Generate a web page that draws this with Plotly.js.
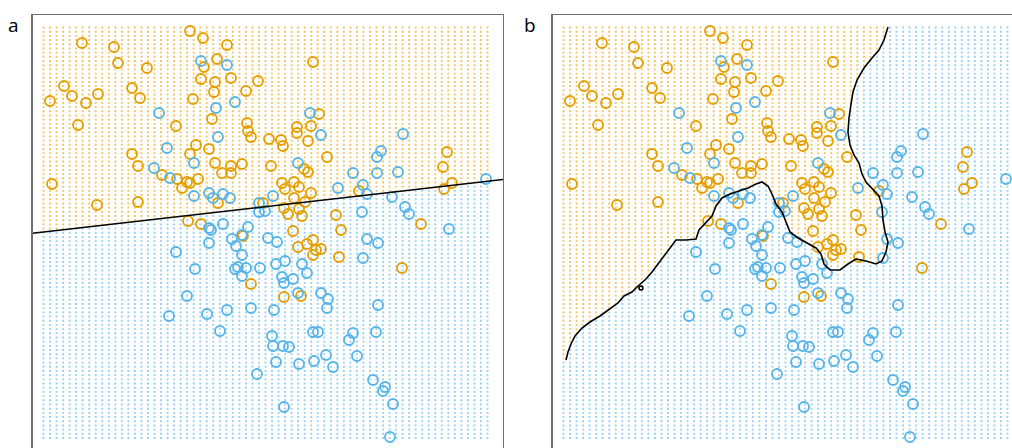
<!DOCTYPE html>
<html>
<head>
<meta charset="utf-8">
<script src="https://cdn.plot.ly/plotly-3.0.1.min.js"></script>
<style>
  html, body { margin: 0; padding: 0; overflow: hidden; background: #ffffff; }
</style>
</head>
<body>
<div id="chart"></div>
<script>
// Training sample: two features per point, two classes.
const orangeX = [-0.73,-0.60,-1.81,-1.49,-0.36,-0.46,-0.59,-1.45,-1.16,-0.62,
  -0.48,-0.32,-0.05,-0.49,-0.17,-1.99,-1.91,-1.77,-1.65,-2.13,
  -1.31,-1.23,-0.70,-0.51,-0.16,-0.15,-0.12,-1.85,-0.87,-0.67,
  -0.54,0.50,0.56,0.34,0.34,0.48,0.06,0.18,0.20,0.45,
  1.84,-1.31,-0.73,-1.25,-0.48,-0.32,-0.21,-0.41,-0.32,-1.01,
  -0.86,-0.76,-0.73,-0.65,-0.81,-2.11,-1.66,-1.25,-0.45,-0.75,
  -0.62,-0.20,-0.12,0.64,0.08,0.41,0.45,1.80,0.19,0.22,
  0.31,0.36,0.48,0.31,0.42,0.96,1.89,1.81,0.00,0.21,
  0.36,0.25,0.39,0.73,1.58,0.30,0.78,0.50,0.44,0.35,
  0.53,0.58,0.50,0.76,1.39,0.21,0.38];
const orangeY = [1.95,1.88,1.83,1.79,1.81,1.67,1.59,1.63,1.58,1.47,
  1.44,1.48,1.45,1.34,1.35,1.40,1.30,1.23,1.32,1.25,
  1.38,1.28,1.27,1.07,1.03,0.95,0.89,1.01,1.00,0.81,
  0.77,1.64,1.12,0.99,0.93,1.00,0.87,0.86,0.80,0.85,
  0.74,0.72,0.72,0.60,0.63,0.60,0.62,0.53,0.53,0.51,
  0.47,0.44,0.43,0.47,0.38,0.42,0.21,0.24,0.23,0.05,
  0.02,-0.10,-0.58,0.69,0.60,0.57,0.54,0.59,0.43,0.37,
  0.44,0.39,0.33,0.28,0.24,0.35,0.43,0.37,0.23,0.18,
  0.17,0.12,0.10,0.11,0.02,-0.05,-0.04,-0.14,-0.18,-0.21,
  -0.24,-0.23,-0.29,-0.31,-0.42,-0.71,-0.70];

const blueX = [-0.62,-0.36,-0.28,-0.47,-1.04,-0.45,-0.96,0.47,0.58,1.40,
  1.18,-0.69,-1.09,-0.93,-0.69,-0.54,-0.50,-0.40,-0.33,-0.54,
  -0.52,-0.40,-0.15,-0.31,-0.27,-0.21,-0.21,-0.54,-0.87,-0.68,
  -0.28,-0.25,-0.17,-0.21,-0.76,-0.03,0.35,1.14,0.90,1.14,
  1.35,0.75,1.00,1.04,1.29,0.10,-0.04,-0.04,0.02,2.23,
  1.42,1.46,0.99,1.86,0.05,0.14,1.04,1.15,1.00,0.13,
  0.22,0.39,0.44,0.19,0.30,0.21,0.35,0.58,0.65,-0.94,
  -0.56,-0.36,-0.12,-0.43,-0.06,0.64,1.15,0.11,0.50,0.55,
  0.90,0.86,1.13,0.09,0.10,0.20,0.26,0.13,0.36,0.51,
  0.63,0.70,0.94,1.10,1.22,1.20,1.30,0.21,1.27];
const blueY = [1.65,1.61,1.24,1.18,1.13,0.89,0.78,1.13,0.91,0.92,
  0.75,0.63,0.58,0.48,0.30,0.33,0.28,0.32,0.28,-0.02,
  -0.04,0.02,-0.01,-0.13,-0.20,-0.09,-0.29,-0.17,-0.26,-0.43,
  -0.43,-0.41,-0.42,-0.50,-0.70,-0.42,0.63,0.69,0.53,0.53,
  0.54,0.38,0.41,0.32,0.29,0.30,0.23,0.14,0.15,0.47,
  0.19,0.12,0.14,-0.03,-0.12,-0.16,-0.13,-0.17,-0.32,-0.38,
  -0.35,-0.38,-0.47,-0.51,-0.53,-0.57,-0.67,-0.67,-0.73,-0.90,
  -0.88,-0.84,-0.82,-1.05,-1.48,-0.82,-0.79,-0.84,-1.06,-1.06,
  -1.07,-1.14,-1.06,-1.10,-1.20,-1.20,-1.21,-1.36,-1.38,-1.35,
  -1.29,-1.41,-1.30,-1.54,-1.61,-1.65,-1.78,-1.81,-2.11];

// Panel a: linear decision boundary, given at the two frame edges.
const linearX = [-2.305, 2.40];
const linearY = [-0.073, 0.465];

// Panel b: nearest-neighbour decision boundary.
const knnX = [-2.17,-2.15,-2.12,-2.08,-2.01,-1.93,-1.83,-1.73,-1.65,-1.59,
  -1.51,-1.45,-1.37,-1.31,-1.25,-1.19,-1.13,-1.07,-0.97,-0.87,
  -0.84,-0.77,-0.71,-0.67,-0.61,-0.53,-0.43,-0.35,-0.27,-0.21,
  -0.15,-0.11,-0.07,-0.01,0.03,0.07,0.15,0.25,0.33,0.38,
  0.41,0.47,0.57,0.65,0.73,0.83,0.93,0.99,1.03,1.05,
  1.02,1.00,0.99,0.96,0.89,0.83,0.79,0.76,0.71,0.67,
  0.65,0.66,0.68,0.70,0.74,0.81,0.89,0.96,1.01,1.04,1.05];
const knnY = [-1.34,-1.26,-1.18,-1.10,-1.02,-0.96,-0.90,-0.83,-0.77,-0.70,
  -0.66,-0.60,-0.53,-0.46,-0.38,-0.30,-0.21,-0.14,-0.14,-0.13,
  -0.04,0.04,0.10,0.20,0.28,0.32,0.35,0.38,0.42,0.44,
  0.40,0.32,0.22,0.14,0.04,-0.06,-0.12,-0.18,-0.22,-0.28,
  -0.38,-0.44,-0.44,-0.38,-0.33,-0.35,-0.38,-0.35,-0.26,-0.16,
  -0.06,0.06,0.20,0.30,0.37,0.44,0.52,0.63,0.71,0.81,
  0.94,1.08,1.22,1.34,1.46,1.58,1.68,1.76,1.86,1.95,1.99];

// Small closed contour island next to the boundary in panel b.
const islandX = [-1.40,-1.405,-1.42,-1.435,-1.44,-1.435,-1.42,-1.405,-1.40];
const islandY = [-0.62,-0.605,-0.60,-0.605,-0.62,-0.635,-0.64,-0.635,-0.62];

const ORANGE = '#E69F00';
const BLUE = '#56B4E9';

// Evaluation grid (69 x 99) on which each classifier is shown.
const NX = 69, NY = 99;
const gx0 = -2.195, gx1 = 2.245, gy0 = -2.12, gy1 = 1.985;
const gridX = [], gridY = [];
for (let i = 0; i < NX; i++) gridX.push(gx0 + i * (gx1 - gx0) / (NX - 1));
for (let j = 0; j < NY; j++) gridY.push(gy0 + j * (gy1 - gy0) / (NY - 1));

function linearSide(x, y) {
  const t = (x - linearX[0]) / (linearX[1] - linearX[0]);
  return y > linearY[0] + t * (linearY[1] - linearY[0]);
}

// region of the orange class in panel b: boundary closed round the top-left
const poly = knnX.map((x, k) => [x, knnY[k]]);
poly.push([knnX[knnX.length - 1], 3], [-3, 3], [-3, knnY[0]]);
function insidePoly(x, y) {
  let c = false;
  for (let i = 0, j = poly.length - 1; i < poly.length; j = i++) {
    const xi = poly[i][0], yi = poly[i][1], xj = poly[j][0], yj = poly[j][1];
    if (((yi > y) !== (yj > y)) && (x < (xj - xi) * (y - yi) / (yj - yi) + xi)) c = !c;
  }
  return c;
}

function gridSplit(test) {
  const o = {x: [], y: []}, b = {x: [], y: []};
  for (const x of gridX) for (const y of gridY) {
    const t = test(x, y) ? o : b;
    t.x.push(x); t.y.push(y);
  }
  return [o, b];
}

const traces = [];
function panel(xa, ya, test, lines) {
  const [go, gb] = gridSplit(test);
  const dot = (g, col) => ({
    type: 'scatter', mode: 'markers', x: g.x, y: g.y, xaxis: xa, yaxis: ya,
    marker: {symbol: 'square', size: 1.9, color: col, opacity: 0.62, line: {width: 0}},
    hoverinfo: 'skip', showlegend: false
  });
  traces.push(dot(go, ORANGE), dot(gb, BLUE));
  const pts = (x, y, col) => ({
    type: 'scatter', mode: 'markers', x: x, y: y, xaxis: xa, yaxis: ya,
    marker: {symbol: 'circle-open', size: 10, color: col, line: {width: 1.8}},
    showlegend: false
  });
  traces.push(pts(orangeX, orangeY, ORANGE), pts(blueX, blueY, BLUE));
  for (const [bx, by] of lines) {
    traces.push({
      type: 'scatter', mode: 'lines', x: bx, y: by, xaxis: xa, yaxis: ya,
      line: {color: '#000000', width: 1.6}, showlegend: false
    });
  }
}
panel('x', 'y', linearSide, [[linearX, linearY]]);
panel('x2', 'y2', insidePoly, [[knnX, knnY], [islandX, islandY]]);

const W = 1030, H = 460, TOP = 15, BOT = 9;
const frame = {
  showline: true, mirror: true, linecolor: '#707070', linewidth: 1.3,
  showgrid: false, zeroline: false, showticklabels: false, ticks: ''
};
const yPaper = py => 1 - (py - TOP) / (H - TOP - BOT);

const layout = {
  width: W, height: H, showlegend: false,
  margin: {l: 0, r: 0, t: TOP, b: BOT, pad: 0},
  paper_bgcolor: '#ffffff', plot_bgcolor: '#ffffff',
  xaxis: Object.assign({domain: [32.5 / W, 503 / W], range: [-2.305, 2.40]}, frame),
  yaxis: Object.assign({domain: [0, 1], range: [-2.25, 2.11]}, frame),
  xaxis2: Object.assign({domain: [552.5 / W, 1023 / W], range: [-2.305, 2.40], anchor: 'y2'}, frame),
  yaxis2: Object.assign({domain: [0, 1], range: [-2.25, 2.11], anchor: 'x2'}, frame),
  annotations: [
    {text: 'a', xref: 'paper', yref: 'paper', x: 13 / W, y: yPaper(25), showarrow: false,
     xanchor: 'center', yanchor: 'middle', font: {family: 'Open Sans, sans-serif', size: 19, color: '#000'}},
    {text: 'b', xref: 'paper', yref: 'paper', x: 530 / W, y: yPaper(25), showarrow: false,
     xanchor: 'center', yanchor: 'middle', font: {family: 'Open Sans, sans-serif', size: 19, color: '#000'}}
  ]
};

Plotly.newPlot('chart', traces, layout, {staticPlot: true, displayModeBar: false});
</script>
</body>
</html>
